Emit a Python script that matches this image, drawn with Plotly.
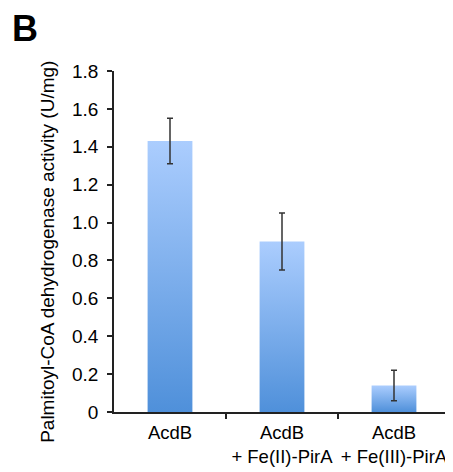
import plotly.graph_objects as go

categories = ["AcdB", "AcdB<br>+ Fe(II)-PirA", "AcdB<br>+ Fe(III)-PirA"]
activity = [1.43, 0.90, 0.14]
errors = [0.12, 0.15, 0.08]
y_ticks = [0, 0.2, 0.4, 0.6, 0.8, 1.0, 1.2, 1.4, 1.6, 1.8]
y_tick_labels = ["0", "0.2", "0.4", "0.6", "0.8", "1.0", "1.2", "1.4", "1.6", "1.8"]
y_title = "Palmitoyl-CoA dehydrogenase activity (U/mg)"
panel_label = "B"

FONT = "Liberation Sans, Arial, Helvetica, sans-serif"
AXIS = "#222222"
BAR_TOP = "#abcdfe"
BAR_BOTTOM = "#4f90da"
half = 0.2

positions = list(range(len(categories)))
fig = go.Figure()
for pos, val in zip(positions, activity):
    fig.add_trace(go.Scatter(
        x=[pos - half, pos + half, pos + half, pos - half, pos - half],
        y=[0, 0, val, val, 0],
        mode="lines", fill="toself",
        fillgradient=dict(type="vertical",
                          colorscale=[[0, BAR_BOTTOM], [1, BAR_TOP]]),
        line=dict(width=0, color="rgba(0,0,0,0)"),
        hoverinfo="skip", showlegend=False,
    ))

fig.add_trace(go.Scatter(
    x=positions, y=activity, mode="markers",
    marker=dict(color="rgba(0,0,0,0)", size=2),
    error_y=dict(type="data", array=errors, color="#333333",
                 thickness=1.5, width=3),
    showlegend=False,
))

fig.add_annotation(text="<b>%s</b>" % panel_label, xref="paper", yref="paper",
                   x=-0.31, y=1.19, xanchor="left", yanchor="top",
                   showarrow=False, font=dict(family=FONT, size=36, color="black"))

fig.add_annotation(text=y_title, xref="paper", yref="paper",
                   x=-0.198, y=0.471, xanchor="center", yanchor="middle",
                   textangle=-90, showarrow=False,
                   font=dict(family=FONT, size=19, color="black"))

fig.update_layout(
    width=445, height=464,
    margin=dict(l=106, r=3, t=63, b=60),
    paper_bgcolor="white", plot_bgcolor="white",
    font=dict(family=FONT, size=19, color="black"),
    xaxis=dict(range=[-0.5, 2.5], tickmode="array", tickvals=positions,
               ticktext=categories, ticks="", showline=True,
               linecolor=AXIS, linewidth=1.5, showgrid=False, zeroline=False,
               ticklabelstandoff=3,
               minor=dict(tickmode="array", tickvals=[0.5, 1.5, 2.5],
                          ticks="outside", ticklen=5, tickwidth=1.5,
                          tickcolor=AXIS, showgrid=False),
               tickfont=dict(size=18.5)),
    yaxis=dict(range=[0, 1.8], tickmode="array", tickvals=y_ticks,
               ticktext=y_tick_labels, ticks="outside", ticklen=5,
               tickwidth=1.5, tickcolor=AXIS, showline=True, linecolor=AXIS,
               linewidth=1.5, showgrid=False, zeroline=False,
               ticklabelstandoff=5,
               tickfont=dict(size=19)),
)

fig.write_html("out.html")
